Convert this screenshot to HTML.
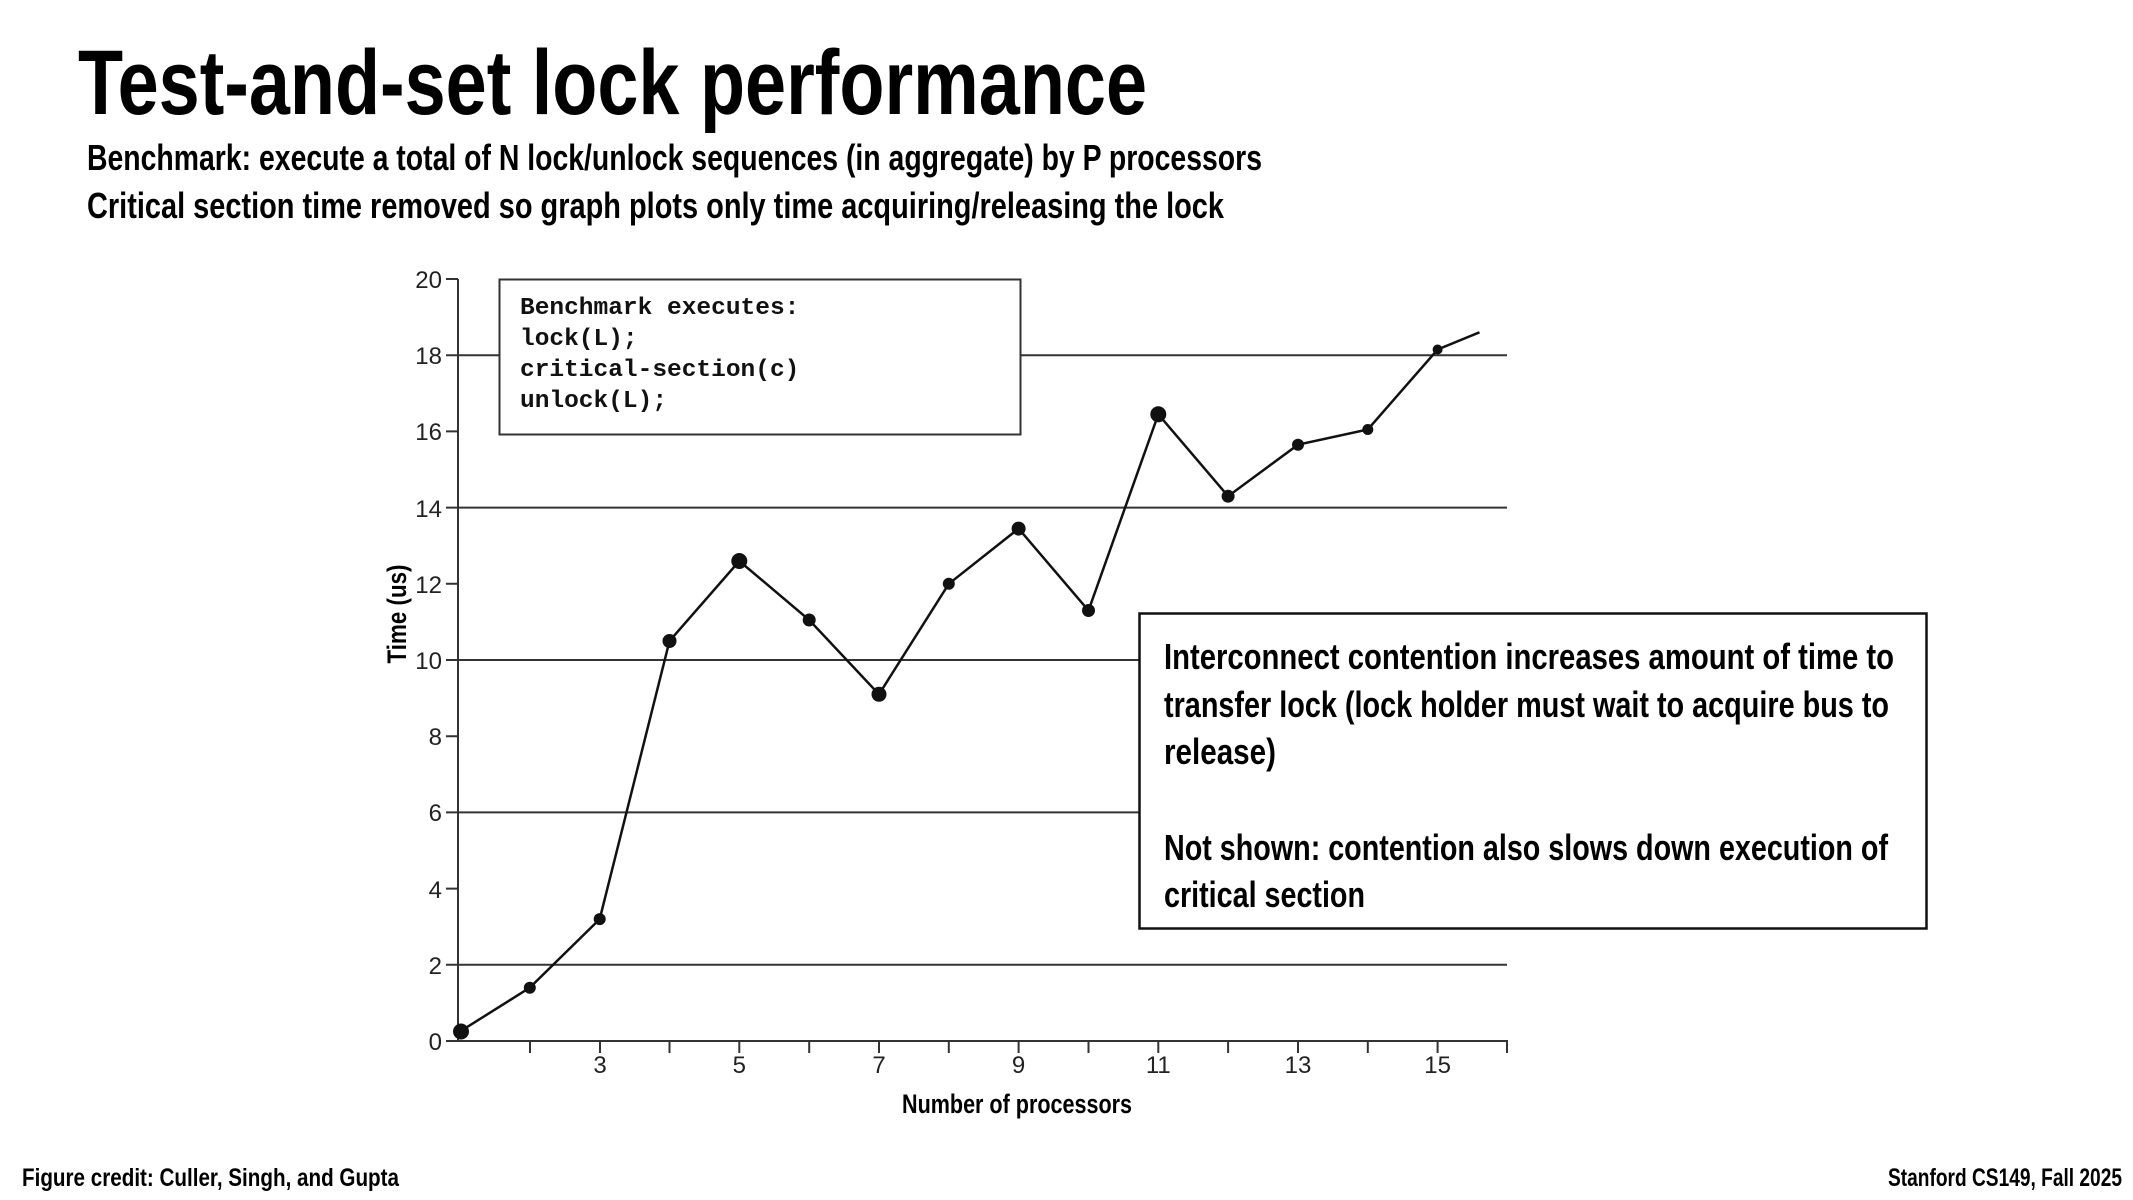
<!DOCTYPE html>
<html><head><meta charset="utf-8"><style>
html,body{margin:0;padding:0;background:#fff;}
svg{display:block;}
.b{font-family:"Liberation Sans Narrow","Liberation Sans",sans-serif;font-weight:bold;}
.t{font-family:"Liberation Sans",sans-serif;font-size:24px;fill:#222;}
.m{font-family:"Liberation Mono",monospace;font-size:24.5px;font-weight:bold;fill:#111;}
</style></head><body>
<svg width="2133" height="1200" viewBox="0 0 2133 1200" xmlns="http://www.w3.org/2000/svg">
<rect width="2133" height="1200" fill="#fff"/>
<text class="b" x="78" y="114" font-size="92" textLength="1069" lengthAdjust="spacingAndGlyphs">Test-and-set lock performance</text>
<text class="b" x="87" y="170" font-size="36" textLength="1175" lengthAdjust="spacingAndGlyphs">Benchmark: execute a total of N lock/unlock sequences (in aggregate) by P processors</text>
<text class="b" x="87" y="218" font-size="36" textLength="1137" lengthAdjust="spacingAndGlyphs">Critical section time removed so graph plots only time acquiring/releasing the lock</text>

<g stroke="#333" stroke-width="2" fill="none">
<line x1="458" y1="964.8" x2="1507" y2="964.8"/>
<line x1="458" y1="812.4" x2="1507" y2="812.4"/>
<line x1="458" y1="660" x2="1507" y2="660"/>
<line x1="458" y1="507.6" x2="1507" y2="507.6"/>
<line x1="458" y1="355.2" x2="1507" y2="355.2"/>
<line x1="458" y1="279" x2="458" y2="1041"/>
<line x1="458" y1="1041" x2="1508" y2="1041"/>
<path d="M446 279h12M446 355.2h12M446 431.4h12M446 507.6h12M446 583.8h12M446 660h12M446 736.2h12M446 812.4h12M446 888.6h12M446 964.8h12M446 1041h12"/>
<path d="M530 1041v12M600 1041v12M669.5 1041v12M739.3 1041v12M809.2 1041v12M879 1041v12M948.8 1041v12M1018.6 1041v12M1088.5 1041v12M1158.3 1041v12M1228.1 1041v12M1298 1041v12M1367.8 1041v12M1437.6 1041v12M1507 1041v12"/>
</g>
<g class="t" text-anchor="end">
<text x="442" y="288">20</text><text x="442" y="364">18</text><text x="442" y="440">16</text>
<text x="442" y="517">14</text><text x="442" y="593">12</text><text x="442" y="669">10</text>
<text x="442" y="745">8</text><text x="442" y="821">6</text><text x="442" y="898">4</text>
<text x="442" y="974">2</text><text x="442" y="1050">0</text>
</g>
<g class="t" text-anchor="middle">
<text x="600" y="1073">3</text><text x="739.3" y="1073">5</text><text x="879" y="1073">7</text>
<text x="1018.6" y="1073">9</text><text x="1158.3" y="1073">11</text><text x="1298" y="1073">13</text>
<text x="1437.6" y="1073">15</text>
</g>
<text class="b" x="1017" y="1113" font-size="27" text-anchor="middle" textLength="230" lengthAdjust="spacingAndGlyphs">Number of processors</text>
<text class="b" transform="translate(406,614) rotate(-90)" font-size="27" text-anchor="middle" textLength="99" lengthAdjust="spacingAndGlyphs">Time (us)</text>

<polyline fill="none" stroke="#111" stroke-width="2.5" points="460,1031.5 529.8,987.7 599.7,919.1 669.5,641 739.3,561 809.2,620 879,694.3 948.8,583.8 1018.6,528.6 1088.5,610.5 1158.3,414.3 1228.1,496.2 1298,444.7 1367.8,429.5 1437.6,349.5 1479.5,332.3"/>
<g fill="#111">
<circle cx="461" cy="1031.5" r="8"/><circle cx="529.8" cy="987.7" r="6"/><circle cx="599.7" cy="919.1" r="6"/>
<circle cx="669.5" cy="641" r="7"/><circle cx="739.3" cy="561" r="8"/><circle cx="809.2" cy="620" r="6.5"/>
<circle cx="879" cy="694.3" r="7.5"/><circle cx="948.8" cy="583.8" r="6"/><circle cx="1018.6" cy="528.6" r="7"/>
<circle cx="1088.5" cy="610.5" r="6.5"/><circle cx="1158.3" cy="414.3" r="8"/><circle cx="1228.1" cy="496.2" r="6.5"/>
<circle cx="1298" cy="444.7" r="6"/><circle cx="1367.8" cy="429.5" r="5.5"/><circle cx="1437.6" cy="349.5" r="5"/>
</g>

<rect x="499.5" y="279.5" width="521" height="155" fill="#fff" stroke="#333" stroke-width="2"/>
<text class="m" x="520" y="314">Benchmark executes:</text>
<text class="m" x="520" y="345">lock(L);</text>
<text class="m" x="520" y="376">critical-section(c)</text>
<text class="m" x="520" y="407">unlock(L);</text>

<rect x="1139.5" y="613.5" width="787" height="315" fill="#fff" stroke="#111" stroke-width="2.5"/>
<text class="b" x="1164" y="669" font-size="36" textLength="730" lengthAdjust="spacingAndGlyphs">Interconnect contention increases amount of time to</text>
<text class="b" x="1164" y="717" font-size="36" textLength="725" lengthAdjust="spacingAndGlyphs">transfer lock (lock holder must wait to acquire bus to</text>
<text class="b" x="1164" y="764" font-size="36" textLength="112" lengthAdjust="spacingAndGlyphs">release)</text>
<text class="b" x="1164" y="860" font-size="36" textLength="724" lengthAdjust="spacingAndGlyphs">Not shown: contention also slows down execution of</text>
<text class="b" x="1164" y="907" font-size="36" textLength="201" lengthAdjust="spacingAndGlyphs">critical section</text>

<text class="b" x="22" y="1186" font-size="25" textLength="377" lengthAdjust="spacingAndGlyphs">Figure credit: Culler, Singh, and Gupta</text>
<text class="b" x="1888" y="1186" font-size="25" textLength="234" lengthAdjust="spacingAndGlyphs">Stanford CS149, Fall 2025</text>
</svg>
</body></html>
